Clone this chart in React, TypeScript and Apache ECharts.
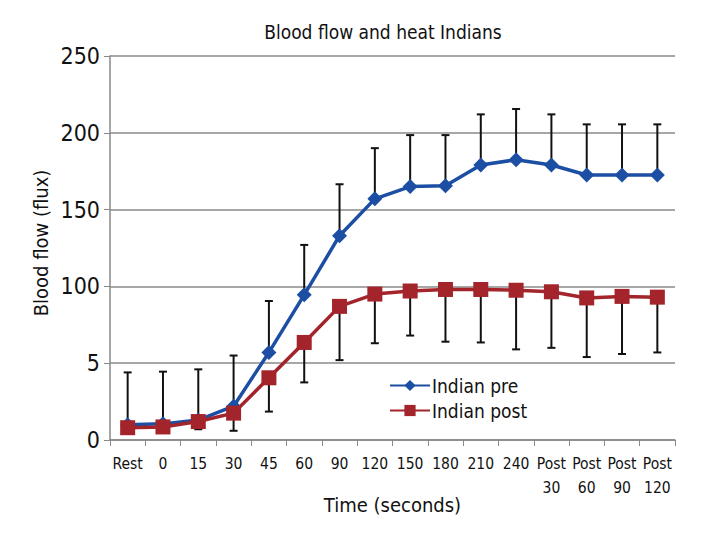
import React, { useEffect, useRef } from "react";
import * as echarts from "echarts";

const categories = ["Rest", "0", "15", "30", "45", "60", "90", "120", "150", "180", "210", "240", "Post\n30", "Post\n60", "Post\n90", "Post\n120"];
const preValues = [10, 10.5, 13, 22, 57, 94.5, 133, 157, 165, 165.5, 179, 182.5, 179, 172.5, 172.5, 172.5];
const preUpper = [44, 44.5, 46, 55, 90.5, 127, 166.5, 190, 198.5, 198.5, 212, 215.5, 212, 205.5, 205.5, 205.5];
const postValues = [8, 8.5, 12, 17.5, 40.5, 63.5, 87, 95, 97, 98, 98, 97.5, 96.5, 92.5, 93.5, 93];
const postLower = [5, 5, 7, 6, 18.5, 37.5, 52, 63, 68, 64, 63.5, 59, 60, 54, 56, 57];
const yTickLabels: Record<number, string> = { 0: "0", 50: "5", 100: "100", 150: "150", 200: "200", 250: "250" };

const FONT = "'Liberation Sans Narrow', 'DejaVu Sans Condensed', 'Roboto Condensed', sans-serif";
const BLUE = "#1c4fa3";
const RED = "#a3242a";

function errorRender(params: any, api: any) {
  const idx = api.value(0);
  const lo = api.coord([idx, api.value(1)]);
  const hi = api.coord([idx, api.value(2)]);
  const cap = 4;
  const style = { stroke: "#111", lineWidth: 2 };
  return {
    type: "group",
    children: [
      { type: "line", shape: { x1: lo[0], y1: lo[1], x2: hi[0], y2: hi[1] }, style },
      { type: "line", shape: { x1: hi[0] - cap, y1: hi[1], x2: hi[0] + cap, y2: hi[1] }, style },
      { type: "line", shape: { x1: lo[0] - cap, y1: lo[1], x2: lo[0] + cap, y2: lo[1] }, style },
    ],
  };
}

export default function App() {
  const ref = useRef<HTMLDivElement>(null);
  useEffect(() => {
    if (!ref.current) return;
    const chart = echarts.init(ref.current, null, { renderer: "svg" });
    const preErr = preValues.map((v, i) => [i, v, preUpper[i]]);
    const postErr = postValues.map((v, i) => [i, postLower[i], v]);
    chart.setOption({
      animation: false,
      backgroundColor: "#fff",
      title: {
        text: "Blood flow and heat Indians",
        left: 378,
        textAlign: "center",
        top: 17,
        textStyle: { fontFamily: FONT, fontSize: 19, fontWeight: "normal", color: "#111" },
      },
      grid: { left: 110, right: 45, top: 56, bottom: 112 },
      legend: {
        left: 384,
        top: 371,
        orient: "vertical",
        itemWidth: 40,
        itemHeight: 14,
        itemGap: 6,
        data: ["Indian pre", "Indian post"],
        textStyle: { fontFamily: FONT, fontSize: 19, color: "#111", padding: [0, 0, 0, -3] },
      },
      xAxis: {
        type: "category",
        data: categories,
        boundaryGap: true,
        name: "Time (seconds)",
        nameLocation: "middle",
        nameGap: 55,
        nameMoveOverlap: false,
        nameTextStyle: { fontFamily: FONT, fontSize: 20, color: "#111" },
        axisLine: { lineStyle: { color: "#888", width: 1.5 } },
        axisTick: { show: true, length: 6, lineStyle: { color: "#888" }, alignWithLabel: false },
        axisLabel: { fontFamily: FONT, fontSize: 15.5, color: "#111", margin: 12, interval: 0, lineHeight: 24 },
      },
      yAxis: {
        type: "value",
        min: 0,
        max: 250,
        interval: 50,
        name: "Blood flow (flux)",
        nameLocation: "middle",
        nameGap: 59,
        nameRotate: 90,
        nameMoveOverlap: false,
        nameTextStyle: { fontFamily: FONT, fontSize: 20, color: "#111", padding: [0, 0, 0, 10] },
        axisLine: { show: true, lineStyle: { color: "#888", width: 1.5 } },
        axisTick: { show: true, length: 6, lineStyle: { color: "#888" } },
        axisLabel: {
          fontFamily: FONT,
          fontSize: 23,
          color: "#111",
          margin: 10,
          formatter: (v: number) => yTickLabels[v] ?? String(v),
        },
        splitLine: { show: true, lineStyle: { color: "#8a8a8a", width: 1.5 } },
      },
      series: [
        {
          type: "custom",
          name: "preErr",
          renderItem: errorRender,
          data: preErr,
          z: 1,
          encode: { x: 0, y: [1, 2] },
          silent: true,
        },
        {
          type: "custom",
          name: "postErr",
          renderItem: errorRender,
          data: postErr,
          z: 1,
          encode: { x: 0, y: [1, 2] },
          silent: true,
        },
        {
          name: "Indian pre",
          type: "line",
          data: preValues,
          symbol: "diamond",
          symbolSize: 15,
          color: BLUE,
          lineStyle: { color: BLUE, width: 3.5 },
          itemStyle: { color: BLUE },
          z: 3,
        },
        {
          name: "Indian post",
          type: "line",
          data: postValues,
          symbol: "rect",
          symbolSize: 15,
          color: RED,
          lineStyle: { color: RED, width: 3.5 },
          itemStyle: { color: RED },
          z: 4,
        },
      ],
    });
    return () => chart.dispose();
  }, []);
  return <div ref={ref} style={{ width: 720, height: 552, margin: -8 }} />;
}
